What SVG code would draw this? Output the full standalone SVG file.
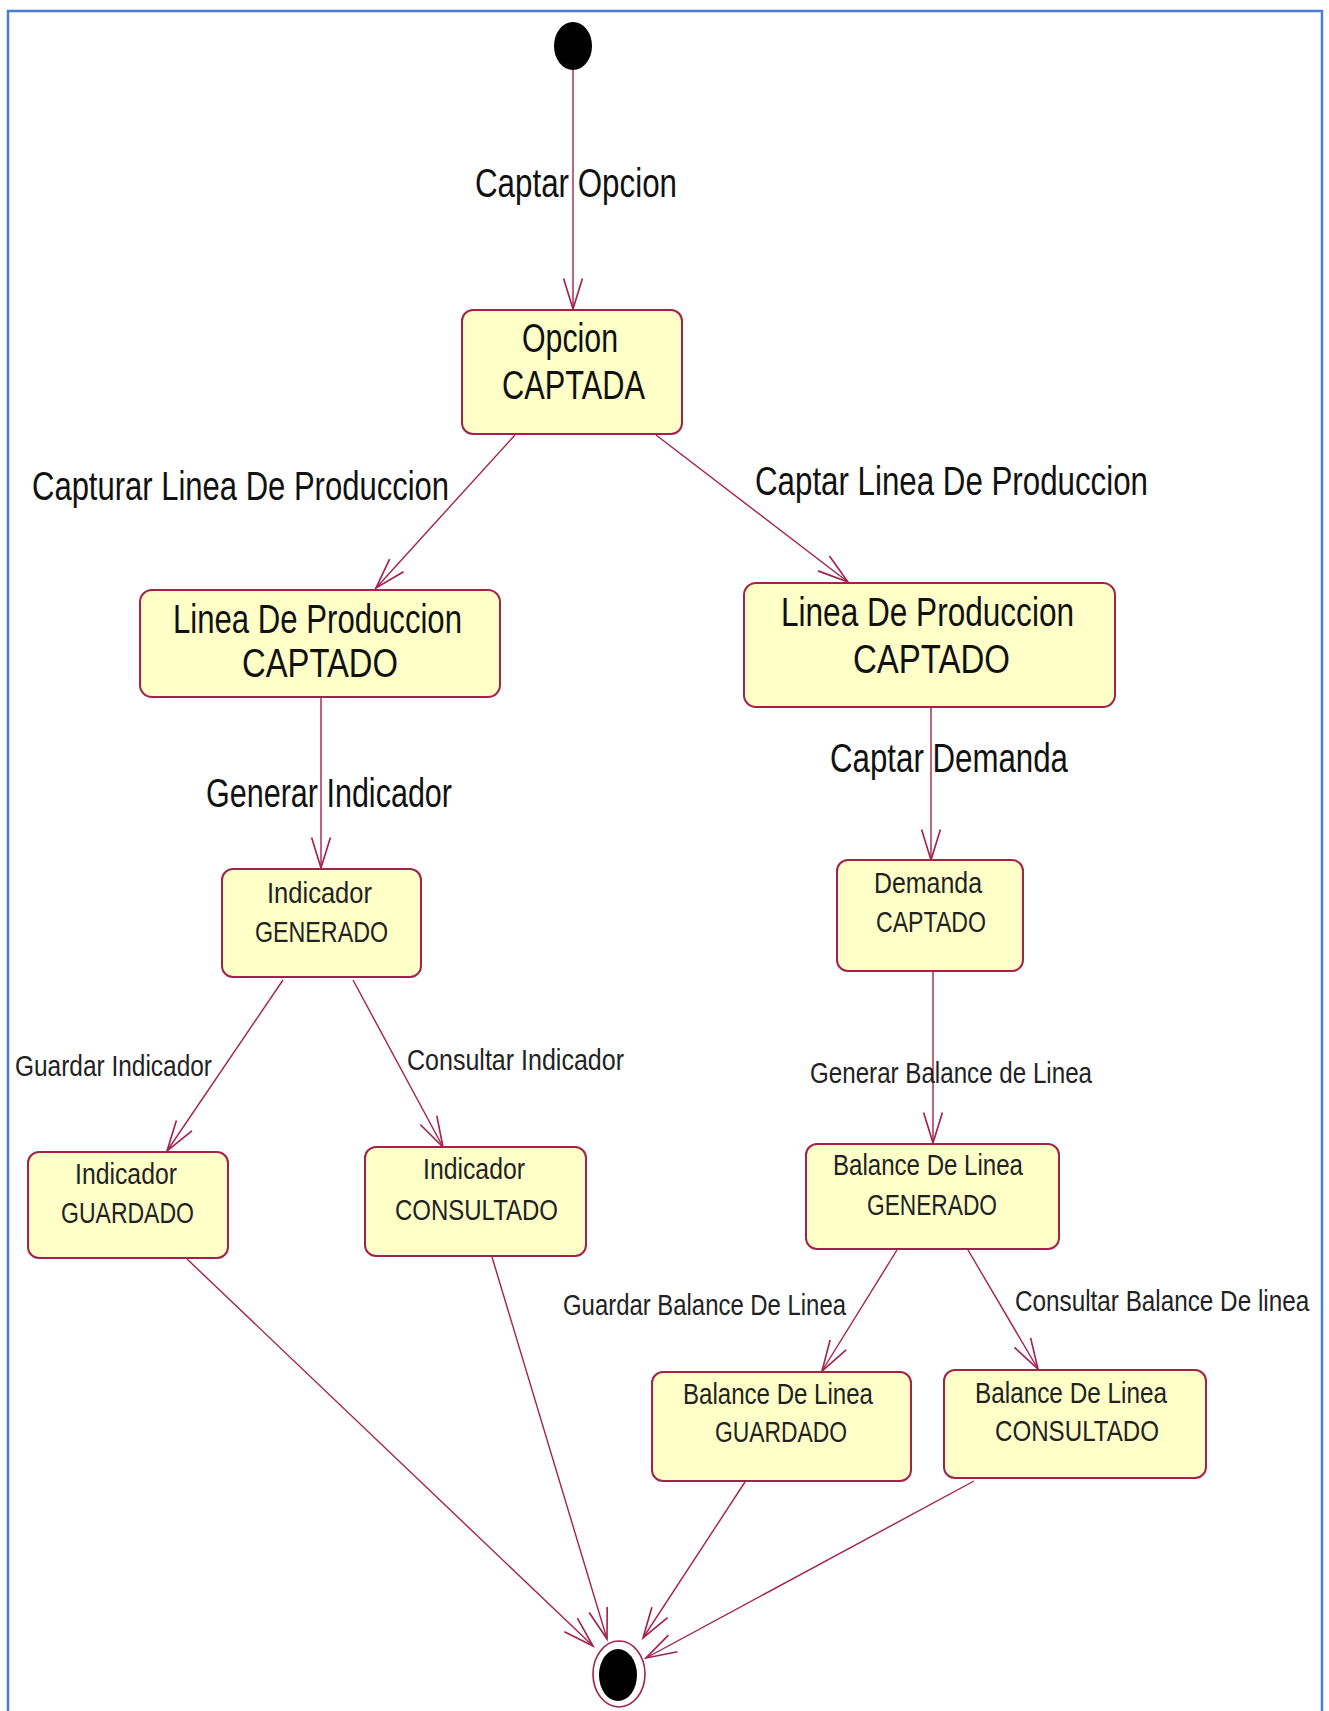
<svg xmlns="http://www.w3.org/2000/svg" width="1329" height="1711" viewBox="0 0 1329 1711">
  <style>
    .frame { fill: none; stroke: #4a7bd8; stroke-width: 2.5; }
    .state rect { fill: #ffffc8; stroke: #a3214b; stroke-width: 2; }
    .big { font-family: "Liberation Sans", Arial, sans-serif; font-size: 40px; fill: #111; }
    .small { font-family: "Liberation Sans", Arial, sans-serif; font-size: 29px; fill: #222; }
    .edge { fill: none; stroke: #a3214b; stroke-width: 1.4; marker-end: url(#open); }
  </style>
  <defs>
    <marker id="open" markerUnits="userSpaceOnUse" markerWidth="40" markerHeight="40" viewBox="-30 -15 34 30" refX="0" refY="0" orient="auto">
      <path d="M -26 -8 L 0 0 L -26 8" fill="none" stroke="#a3214b" stroke-width="1.4"/>
    </marker>
  </defs>

  <rect width="1329" height="1711" fill="#ffffff"/>
  <path class="frame" d="M 8 1711 L 8 11 L 1322 11 L 1322 1711"/>

  <!-- transitions -->
  <g id="connectors">
    <path class="edge" d="M 573 70 L 573 309"/>
    <path class="edge" d="M 515 435 L 376 588"/>
    <path class="edge" d="M 656 435 L 848 582"/>
    <path class="edge" d="M 321 697 L 321 868"/>
    <path class="edge" d="M 931 707 L 931 860"/>
    <path class="edge" d="M 283 980 L 167 1151"/>
    <path class="edge" d="M 353 980 L 443 1147"/>
    <path class="edge" d="M 933 971 L 933 1143"/>
    <path class="edge" d="M 897 1250 L 822 1371"/>
    <path class="edge" d="M 968 1250 L 1038 1369"/>
    <path class="edge" d="M 187 1259 L 593 1646"/>
    <path class="edge" d="M 492 1257 L 607 1639"/>
    <path class="edge" d="M 745 1482 L 643 1638"/>
    <path class="edge" d="M 974 1481 L 646 1658"/>

    <text class="big" x="475" y="197" textLength="202" lengthAdjust="spacingAndGlyphs">Captar Opcion</text>
    <text class="big" x="32" y="500" textLength="417" lengthAdjust="spacingAndGlyphs">Capturar Linea De Produccion</text>
    <text class="big" x="755" y="495" textLength="393" lengthAdjust="spacingAndGlyphs">Captar Linea De Produccion</text>
    <text class="big" x="206" y="807" textLength="246" lengthAdjust="spacingAndGlyphs">Generar Indicador</text>
    <text class="big" x="830" y="772" textLength="238" lengthAdjust="spacingAndGlyphs">Captar Demanda</text>
    <text class="small" x="15" y="1076" textLength="197" lengthAdjust="spacingAndGlyphs">Guardar Indicador</text>
    <text class="small" x="407" y="1070" textLength="217" lengthAdjust="spacingAndGlyphs">Consultar Indicador</text>
    <text class="small" x="810" y="1083" textLength="282" lengthAdjust="spacingAndGlyphs">Generar Balance de Linea</text>
    <text class="small" x="563" y="1315" textLength="283" lengthAdjust="spacingAndGlyphs">Guardar Balance De Linea</text>
    <text class="small" transform="translate(1015 1311) scale(0.8375 1)">Consultar Balance De linea</text>
  </g>

  <!-- pseudo-states -->
  <g id="start">
    <ellipse cx="573" cy="46" rx="19" ry="24" fill="#000"/>
  </g>
  <g id="end">
    <ellipse cx="619" cy="1674" rx="26" ry="33" fill="#fff" stroke="#a3214b" stroke-width="1.6"/>
    <ellipse cx="618" cy="1675" rx="19" ry="26" fill="#000"/>
  </g>

  <!-- states -->
  <g id="opcion-captada" class="state">
    <rect x="462" y="310" width="220" height="124" rx="11"/>
    <text class="big" x="522" y="352" textLength="96" lengthAdjust="spacingAndGlyphs">Opcion</text>
    <text class="big" x="502" y="399" textLength="143" lengthAdjust="spacingAndGlyphs">CAPTADA</text>
  </g>
  <g id="linea-captado-1" class="state">
    <rect x="140" y="590" width="360" height="107" rx="12"/>
    <text class="big" x="173" y="633" textLength="289" lengthAdjust="spacingAndGlyphs">Linea De Produccion</text>
    <text class="big" x="242" y="677" textLength="156" lengthAdjust="spacingAndGlyphs">CAPTADO</text>
  </g>
  <g id="linea-captado-2" class="state">
    <rect x="744" y="583" width="371" height="124" rx="12"/>
    <text class="big" x="781" y="626" textLength="293" lengthAdjust="spacingAndGlyphs">Linea De Produccion</text>
    <text class="big" x="853" y="673" textLength="157" lengthAdjust="spacingAndGlyphs">CAPTADO</text>
  </g>
  <g id="indicador-generado" class="state">
    <rect x="222" y="869" width="199" height="108" rx="11"/>
    <text class="small" x="267" y="903" textLength="105" lengthAdjust="spacingAndGlyphs">Indicador</text>
    <text class="small" x="255" y="942" textLength="133" lengthAdjust="spacingAndGlyphs">GENERADO</text>
  </g>
  <g id="demanda-captado" class="state">
    <rect x="837" y="860" width="186" height="111" rx="11"/>
    <text class="small" x="874" y="893" textLength="108" lengthAdjust="spacingAndGlyphs">Demanda</text>
    <text class="small" x="876" y="932" textLength="110" lengthAdjust="spacingAndGlyphs">CAPTADO</text>
  </g>
  <g id="indicador-guardado" class="state">
    <rect x="28" y="1152" width="200" height="106" rx="11"/>
    <text class="small" x="75" y="1184" textLength="102" lengthAdjust="spacingAndGlyphs">Indicador</text>
    <text class="small" x="61" y="1223" textLength="133" lengthAdjust="spacingAndGlyphs">GUARDADO</text>
  </g>
  <g id="indicador-consultado" class="state">
    <rect x="365" y="1147" width="221" height="109" rx="11"/>
    <text class="small" x="423" y="1179" textLength="102" lengthAdjust="spacingAndGlyphs">Indicador</text>
    <text class="small" x="395" y="1220" textLength="163" lengthAdjust="spacingAndGlyphs">CONSULTADO</text>
  </g>
  <g id="balance-generado" class="state">
    <rect x="806" y="1144" width="253" height="105" rx="11"/>
    <text class="small" x="833" y="1175" textLength="190" lengthAdjust="spacingAndGlyphs">Balance De Linea</text>
    <text class="small" x="867" y="1215" textLength="130" lengthAdjust="spacingAndGlyphs">GENERADO</text>
  </g>
  <g id="balance-guardado" class="state">
    <rect x="652" y="1372" width="259" height="109" rx="11"/>
    <text class="small" x="683" y="1404" textLength="190" lengthAdjust="spacingAndGlyphs">Balance De Linea</text>
    <text class="small" x="715" y="1442" textLength="132" lengthAdjust="spacingAndGlyphs">GUARDADO</text>
  </g>
  <g id="balance-consultado" class="state">
    <rect x="944" y="1370" width="262" height="108" rx="11"/>
    <text class="small" x="975" y="1403" textLength="192" lengthAdjust="spacingAndGlyphs">Balance De Linea</text>
    <text class="small" x="995" y="1441" textLength="164" lengthAdjust="spacingAndGlyphs">CONSULTADO</text>
  </g>
</svg>
